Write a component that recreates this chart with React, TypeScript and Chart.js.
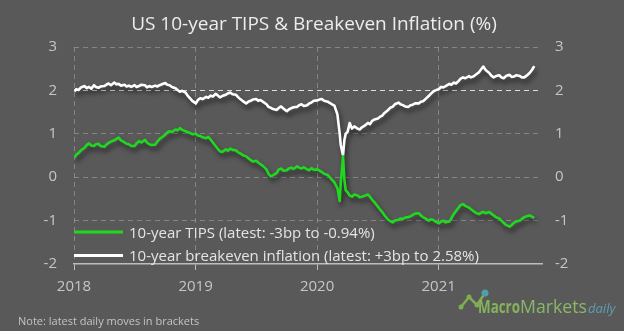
import React, { useEffect, useRef } from "react";
import { Chart, registerables } from "chart.js";

Chart.register(...registerables);

const titleText = "US 10-year TIPS & Breakeven Inflation (%)";
const noteText = "Note: latest daily moves in brackets";
const tipsLabel = "10-year TIPS (latest: -3bp to -0.94%)";
const breakevenLabel = "10-year breakeven inflation (latest: +3bp to 2.58%)";
const yearTicks = [2018, 2019, 2020, 2021];
const yMin = -2;
const yMax = 3;

const dates = [
  "2018-01-02", "2018-01-08", "2018-01-15", "2018-01-22",
  "2018-02-02", "2018-02-08", "2018-02-15", "2018-02-22",
  "2018-03-02", "2018-03-08", "2018-03-15", "2018-03-22",
  "2018-04-02", "2018-04-08", "2018-04-15", "2018-04-22",
  "2018-05-02", "2018-05-08", "2018-05-15", "2018-05-22",
  "2018-06-02", "2018-06-08", "2018-06-15", "2018-06-22",
  "2018-07-02", "2018-07-08", "2018-07-15", "2018-07-22",
  "2018-08-02", "2018-08-08", "2018-08-15", "2018-08-22",
  "2018-09-02", "2018-09-08", "2018-09-15", "2018-09-22",
  "2018-10-02", "2018-10-08", "2018-10-15", "2018-10-22",
  "2018-11-02", "2018-11-08", "2018-11-15", "2018-11-22",
  "2018-12-02", "2018-12-08", "2018-12-15", "2018-12-22",
  "2019-01-02", "2019-01-08", "2019-01-15", "2019-01-22",
  "2019-02-02", "2019-02-08", "2019-02-15", "2019-02-22",
  "2019-03-02", "2019-03-08", "2019-03-15", "2019-03-22",
  "2019-04-02", "2019-04-08", "2019-04-15", "2019-04-22",
  "2019-05-02", "2019-05-08", "2019-05-15", "2019-05-22",
  "2019-06-02", "2019-06-08", "2019-06-15", "2019-06-22",
  "2019-07-02", "2019-07-08", "2019-07-15", "2019-07-22",
  "2019-08-02", "2019-08-08", "2019-08-15", "2019-08-22",
  "2019-09-02", "2019-09-08", "2019-09-15", "2019-09-22",
  "2019-10-02", "2019-10-08", "2019-10-15", "2019-10-22",
  "2019-11-02", "2019-11-08", "2019-11-15", "2019-11-22",
  "2019-12-02", "2019-12-08", "2019-12-15", "2019-12-22",
  "2020-01-02", "2020-01-08", "2020-01-15", "2020-01-22",
  "2020-02-02", "2020-02-08", "2020-02-15", "2020-02-22",
  "2020-03-02", "2020-03-09", "2020-03-12", "2020-03-19", "2020-03-23", "2020-03-27",
  "2020-04-02", "2020-04-08", "2020-04-15", "2020-04-22",
  "2020-05-02", "2020-05-08", "2020-05-15", "2020-05-22",
  "2020-06-02", "2020-06-08", "2020-06-15", "2020-06-22",
  "2020-07-02", "2020-07-08", "2020-07-15", "2020-07-22",
  "2020-08-02", "2020-08-08", "2020-08-15", "2020-08-22",
  "2020-09-02", "2020-09-08", "2020-09-15", "2020-09-22",
  "2020-10-02", "2020-10-08", "2020-10-15", "2020-10-22",
  "2020-11-02", "2020-11-08", "2020-11-15", "2020-11-22",
  "2020-12-02", "2020-12-08", "2020-12-15", "2020-12-22",
  "2021-01-02", "2021-01-08", "2021-01-15", "2021-01-22",
  "2021-02-02", "2021-02-08", "2021-02-15", "2021-02-22",
  "2021-03-02", "2021-03-08", "2021-03-15", "2021-03-22",
  "2021-04-02", "2021-04-08", "2021-04-15", "2021-04-22",
  "2021-05-02", "2021-05-08", "2021-05-15", "2021-05-22",
  "2021-06-02", "2021-06-08", "2021-06-15", "2021-06-22",
  "2021-07-02", "2021-07-08", "2021-07-15", "2021-07-22",
  "2021-08-02", "2021-08-08", "2021-08-15", "2021-08-22",
  "2021-09-02", "2021-09-08", "2021-09-15", "2021-09-22",
  "2021-10-01", "2021-10-08", "2021-10-15",
];

const breakeven = [
  1.98, 2.03, 2.01, 2.07,
  2.10, 2.05, 2.08, 2.04,
  2.12, 2.08, 2.06, 2.09,
  2.10, 2.13, 2.16, 2.12,
  2.18, 2.14, 2.15, 2.11,
  2.13, 2.09, 2.11, 2.08,
  2.12, 2.08, 2.10, 2.13,
  2.12, 2.07, 2.10, 2.08,
  2.11, 2.09, 2.12, 2.14,
  2.17, 2.13, 2.12, 2.08,
  2.05, 2.01, 1.97, 1.99,
  1.95, 1.88, 1.82, 1.76,
  1.70, 1.78, 1.82, 1.80,
  1.85, 1.83, 1.88, 1.86,
  1.92, 1.89, 1.84, 1.87,
  1.90, 1.93, 1.95, 1.91,
  1.90, 1.85, 1.80, 1.76,
  1.70, 1.74, 1.76, 1.79,
  1.80, 1.76, 1.78, 1.74,
  1.68, 1.62, 1.60, 1.57,
  1.55, 1.60, 1.63, 1.58,
  1.52, 1.56, 1.59, 1.61,
  1.62, 1.66, 1.68, 1.64,
  1.66, 1.70, 1.72, 1.76,
  1.77, 1.79, 1.80, 1.76,
  1.74, 1.71, 1.68, 1.65,
  1.45, 1.00, 0.75, 0.50, 0.85, 1.00,
  1.05, 1.25, 1.12, 1.17,
  1.12, 1.10, 1.15, 1.18,
  1.25, 1.22, 1.30, 1.33,
  1.35, 1.39, 1.42, 1.48,
  1.55, 1.60, 1.62, 1.68,
  1.72, 1.68, 1.66, 1.63,
  1.62, 1.66, 1.67, 1.70,
  1.70, 1.74, 1.75, 1.80,
  1.87, 1.92, 1.97, 2.00,
  2.03, 2.08, 2.07, 2.10,
  2.15, 2.13, 2.18, 2.16,
  2.22, 2.27, 2.30, 2.28,
  2.33, 2.30, 2.32, 2.36,
  2.42, 2.48, 2.55, 2.47,
  2.40, 2.34, 2.30, 2.33,
  2.35, 2.30, 2.28, 2.33,
  2.36, 2.31, 2.32, 2.35,
  2.33, 2.30, 2.30, 2.34,
  2.40, 2.47, 2.56,
];

const tips = [
  0.45, 0.52, 0.56, 0.62,
  0.68, 0.74, 0.78, 0.73,
  0.72, 0.76, 0.77, 0.72,
  0.70, 0.75, 0.79, 0.82,
  0.85, 0.88, 0.91, 0.85,
  0.80, 0.77, 0.76, 0.72,
  0.72, 0.78, 0.83, 0.80,
  0.86, 0.80, 0.76, 0.74,
  0.75, 0.82, 0.88, 0.92,
  0.98, 1.03, 1.06, 1.04,
  1.10, 1.08, 1.13, 1.09,
  1.06, 1.04, 1.02, 0.99,
  1.00, 0.96, 0.95, 0.92,
  0.90, 0.93, 0.87, 0.80,
  0.72, 0.66, 0.60, 0.58,
  0.64, 0.61, 0.66, 0.63,
  0.62, 0.58, 0.55, 0.51,
  0.48, 0.44, 0.40, 0.36,
  0.38, 0.34, 0.30, 0.26,
  0.18, 0.08, 0.02, 0.05,
  0.10, 0.18, 0.20, 0.15,
  0.16, 0.20, 0.22, 0.19,
  0.25, 0.22, 0.20, 0.23,
  0.18, 0.16, 0.21, 0.17,
  0.18, 0.15, 0.12, 0.08,
  0.05, 0.00, -0.06, -0.12,
  -0.25, -0.55, -0.15, 0.48, -0.05, -0.30,
  -0.35, -0.42, -0.45, -0.40,
  -0.42, -0.46, -0.45, -0.43,
  -0.40, -0.45, -0.52, -0.58,
  -0.68, -0.74, -0.80, -0.88,
  -0.98, -1.01, -1.04, -1.00,
  -0.98, -0.95, -0.96, -0.93,
  -0.92, -0.90, -0.87, -0.84,
  -0.83, -0.88, -0.92, -0.95,
  -1.00, -0.97, -0.98, -1.02,
  -1.06, -1.02, -1.00, -1.04,
  -1.02, -0.95, -0.85, -0.78,
  -0.70, -0.64, -0.62, -0.66,
  -0.70, -0.74, -0.78, -0.82,
  -0.85, -0.82, -0.80, -0.83,
  -0.80, -0.84, -0.88, -0.92,
  -0.95, -1.00, -1.05, -1.10,
  -1.14, -1.10, -1.05, -1.02,
  -1.00, -0.96, -0.92, -0.90,
  -0.88, -0.91, -0.94,
];

function toYear(d: string): number {
  const [y, m, dd] = d.split("-").map(Number);
  const start = Date.UTC(y, 0, 1);
  const end = Date.UTC(y + 1, 0, 1);
  return y + (Date.UTC(y, m - 1, dd) - start) / (end - start);
}

const BG = "#595959";
const GREEN = "#1fd81f";

const bgPlugin = {
  id: "bgFill",
  beforeDraw(chart: any) {
    const ctx = chart.ctx;
    ctx.save();
    ctx.fillStyle = BG;
    ctx.fillRect(0, 0, chart.width, chart.height);
    ctx.restore();
  },
};

const shadowPlugin = {
  id: "lineShadow",
  beforeDatasetDraw(chart: any) {
    const ctx = chart.ctx;
    ctx.save();
    ctx.shadowColor = "rgba(0,0,0,0.6)";
    ctx.shadowBlur = 5;
    ctx.shadowOffsetX = 2;
    ctx.shadowOffsetY = 4;
  },
  afterDatasetDraw(chart: any) {
    chart.ctx.restore();
  },
};

const textPlugin = {
  id: "texts",
  afterDraw(chart: any) {
    const ctx = chart.ctx;
    ctx.save();
    // title
    ctx.fillStyle = "#ececec";
    ctx.font = "19px 'Open Sans'";
    ctx.textAlign = "center";
    ctx.textBaseline = "alphabetic";
    ctx.fillText(titleText, 314, 30, 398);

    // legend
    ctx.textAlign = "left";
    ctx.lineWidth = 3;
    ctx.strokeStyle = GREEN;
    ctx.beginPath();
    ctx.moveTo(74, 232);
    ctx.lineTo(123, 232);
    ctx.stroke();
    ctx.strokeStyle = "#ffffff";
    ctx.beginPath();
    ctx.moveTo(74, 255.5);
    ctx.lineTo(123, 255.5);
    ctx.stroke();
    ctx.fillStyle = "#e4e4e4";
    ctx.font = "15px 'Open Sans'";
    ctx.fillText(tipsLabel, 129, 238, 250);
    ctx.fillText(breakevenLabel, 129, 261, 356);

    // note
    ctx.fillStyle = "#c4c4c4";
    ctx.font = "11px 'Open Sans'";
    ctx.fillText(noteText, 18, 325, 208);

    // logo icon
    ctx.strokeStyle = "#7fae52";
    ctx.lineWidth = 2.5;
    ctx.beginPath();
    ctx.moveTo(461, 307);
    ctx.lineTo(469, 297);
    ctx.lineTo(477, 305);
    ctx.lineTo(485, 293);
    ctx.stroke();
    ctx.fillStyle = "#7fae52";
    for (const [cx, cy] of [[461, 307], [469, 297], [477, 305]]) {
      ctx.beginPath();
      ctx.arc(cx, cy, 2.5, 0, Math.PI * 2);
      ctx.fill();
    }
    ctx.fillStyle = "#4f9fa8";
    ctx.beginPath();
    ctx.arc(485, 293, 3.5, 0, Math.PI * 2);
    ctx.fill();

    // logo text
    ctx.fillStyle = "#86b35a";
    ctx.font = "bold 18px 'Open Sans'";
    ctx.fillText("Macro", 478, 313, 42);
    ctx.fillStyle = "#8ab866";
    ctx.font = "18px 'Open Sans'";
    ctx.fillText("Markets", 520, 313, 67);
    ctx.fillStyle = "#5d9fb3";
    ctx.font = "italic 13px 'Open Sans'";
    ctx.fillText("daily", 588, 313, 34);
    ctx.restore();
  },
};

export default function App() {
  const canvasRef = useRef<HTMLCanvasElement | null>(null);

  useEffect(() => {
    const canvas = canvasRef.current;
    if (!canvas) return;
    const xs = dates.map(toYear);
    const tickFont = { family: "'Open Sans'", size: 15 };
    const chart = new Chart(canvas, {
      type: "line",
      data: {
        datasets: [
          {
            label: tipsLabel,
            data: xs.map((x, i) => ({ x, y: tips[i] })),
            borderColor: GREEN,
            borderWidth: 2.6,
            borderJoinStyle: "round",
            pointRadius: 0,
            tension: 0,
            yAxisID: "y",
          },
          {
            label: breakevenLabel,
            data: xs.map((x, i) => ({ x, y: breakeven[i] })),
            borderColor: "#ffffff",
            borderWidth: 2.6,
            borderJoinStyle: "round",
            pointRadius: 0,
            tension: 0,
            yAxisID: "y",
          },
        ],
      },
      plugins: [bgPlugin, shadowPlugin, textPlugin],
      options: {
        responsive: false,
        maintainAspectRatio: false,
        animation: false,
        devicePixelRatio: 1,
        layout: { padding: { top: 47, left: 0, right: 0, bottom: 0 } },
        plugins: {
          legend: { display: false },
          title: { display: false },
          tooltip: { enabled: false },
        },
        scales: {
          x: {
            type: "linear",
            min: 2018,
            max: 2021.85,
            afterBuildTicks: (s: any) => {
              s.ticks = yearTicks.map((v) => ({ value: v }));
            },
            afterFit: (s: any) => {
              s.height = 67;
            },
            ticks: {
              color: "#c6c6c6",
              font: tickFont,
              padding: 8,
              maxRotation: 0,
              autoSkip: false,
              callback: (v: any) => String(v),
            },
            grid: {
              color: "rgba(170,170,170,0.55)",
              lineWidth: 1,
              drawTicks: true,
              tickLength: 6,
              tickColor: "#bdbdbd",
              tickWidth: 1,
            },
            border: { display: true, color: "#bdbdbd", width: 1.5, dash: [5, 4] },
          },
          y: {
            type: "linear",
            position: "left",
            min: yMin,
            max: yMax,
            afterFit: (s: any) => {
              s.width = 74;
            },
            ticks: {
              stepSize: 1,
              color: "#c6c6c6",
              font: tickFont,
              padding: 17,
            },
            grid: {
              drawTicks: false,
              lineWidth: 1,
              color: (c: any) =>
                c.tick && c.tick.value === 2
                  ? "rgba(235,235,235,0.9)"
                  : c.tick && c.tick.value === yMin
                  ? "rgba(0,0,0,0)"
                  : "rgba(170,170,170,0.55)",
            },
            border: { display: false, dash: [5, 4] },
          },
          y2: {
            type: "linear",
            position: "right",
            min: yMin,
            max: yMax,
            afterFit: (s: any) => {
              s.width = 82;
            },
            ticks: {
              stepSize: 1,
              color: "#c6c6c6",
              font: tickFont,
              padding: 13,
            },
            grid: { display: false, drawTicks: false },
            border: { display: false },
          },
        },
      },
    } as any);
    return () => chart.destroy();
  }, []);

  return (
    <div
      style={{
        position: "fixed",
        left: 0,
        top: 0,
        width: 624,
        height: 331,
        background: BG,
      }}
    >
      <canvas ref={canvasRef} width={624} height={331} style={{ width: 624, height: 331, display: "block" }} />
    </div>
  );
}
